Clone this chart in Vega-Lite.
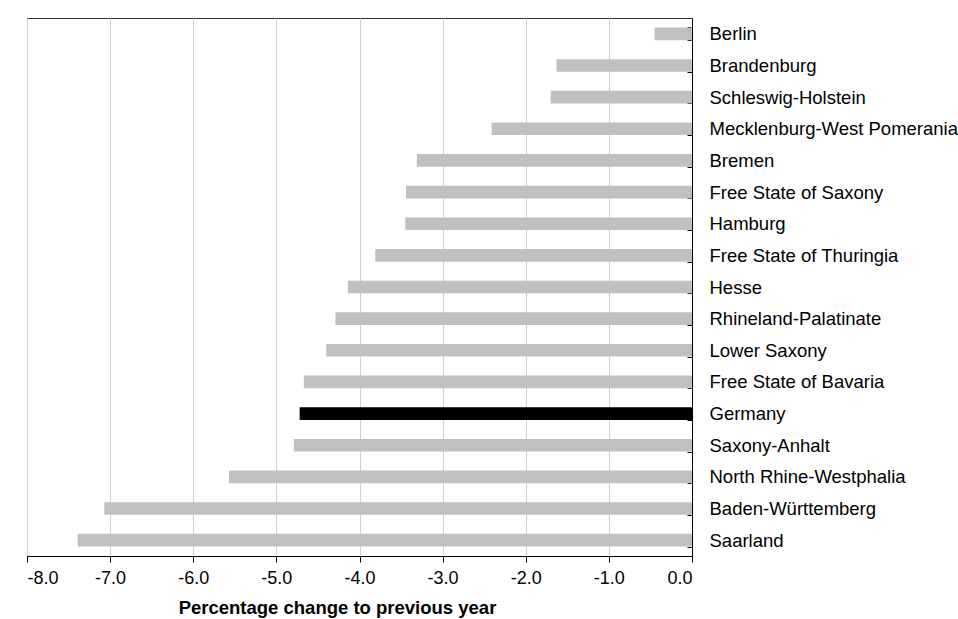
{
  "$schema": "https://vega.github.io/schema/vega-lite/v6.json",
  "autosize": "none",
  "width": 665,
  "height": 538,
  "padding": {"left": 27, "top": 18, "right": 266, "bottom": 63},
  "background": "white",
  "config": {
    "font": "Liberation Sans",
    "view": {"stroke": "#333333", "strokeWidth": 1}
  },
  "data": {
    "values": [
      {"state": "Berlin", "change": -0.45},
      {"state": "Brandenburg", "change": -1.63},
      {"state": "Schleswig-Holstein", "change": -1.70},
      {"state": "Mecklenburg-West Pomerania", "change": -2.41},
      {"state": "Bremen", "change": -3.31},
      {"state": "Free State of Saxony", "change": -3.44},
      {"state": "Hamburg", "change": -3.45},
      {"state": "Free State of Thuringia", "change": -3.81},
      {"state": "Hesse", "change": -4.14},
      {"state": "Rhineland-Palatinate", "change": -4.29},
      {"state": "Lower Saxony", "change": -4.40},
      {"state": "Free State of Bavaria", "change": -4.67},
      {"state": "Germany", "change": -4.72},
      {"state": "Saxony-Anhalt", "change": -4.79},
      {"state": "North Rhine-Westphalia", "change": -5.57},
      {"state": "Baden-Württemberg", "change": -7.07},
      {"state": "Saarland", "change": -7.39}
    ]
  },
  "mark": {"type": "bar"},
  "encoding": {
    "y": {
      "field": "state",
      "type": "nominal",
      "sort": null,
      "scale": {"paddingInner": 0.6, "paddingOuter": 0.3},
      "axis": {
        "orient": "right",
        "title": null,
        "domainColor": "#000000",
        "domainWidth": 1,
        "tickColor": "#000000",
        "tickBand": "extent",
        "tickSize": -5,
        "labelPadding": 22,
        "labelFontSize": 18.5,
        "labelColor": "#000000",
        "labelFont": "Liberation Sans",
        "labelLimit": 400
      }
    },
    "x": {
      "field": "change",
      "type": "quantitative",
      "scale": {"domain": [-8, 0], "nice": false, "zero": false},
      "axis": {
        "values": [-8, -7, -6, -5, -4, -3, -2, -1, 0],
        "labelExpr": "(datum.value < 0 ? '-' : '') + format(abs(datum.value), '.1f')",
        "title": "Percentage change to previous year",
        "titleFontSize": 18.5,
        "titleFontWeight": "bold",
        "titleColor": "#000000",
        "titleFont": "Liberation Sans",
        "titleX": 310,
        "titleY": 51,
        "titleAlign": "center",
        "titleBaseline": "middle",
        "domainColor": "#000000",
        "tickColor": "#000000",
        "tickSize": 6,
        "labelPadding": 7,
        "labelFontSize": 18,
        "labelColor": "#000000",
        "labelFont": "Liberation Sans",
        "grid": true,
        "gridColor": "#cfcfcf",
        "gridWidth": 1
      }
    },
    "color": {
      "condition": {"test": "datum.state === 'Germany'", "value": "#000000"},
      "value": "#c0c0c0"
    }
  }
}
